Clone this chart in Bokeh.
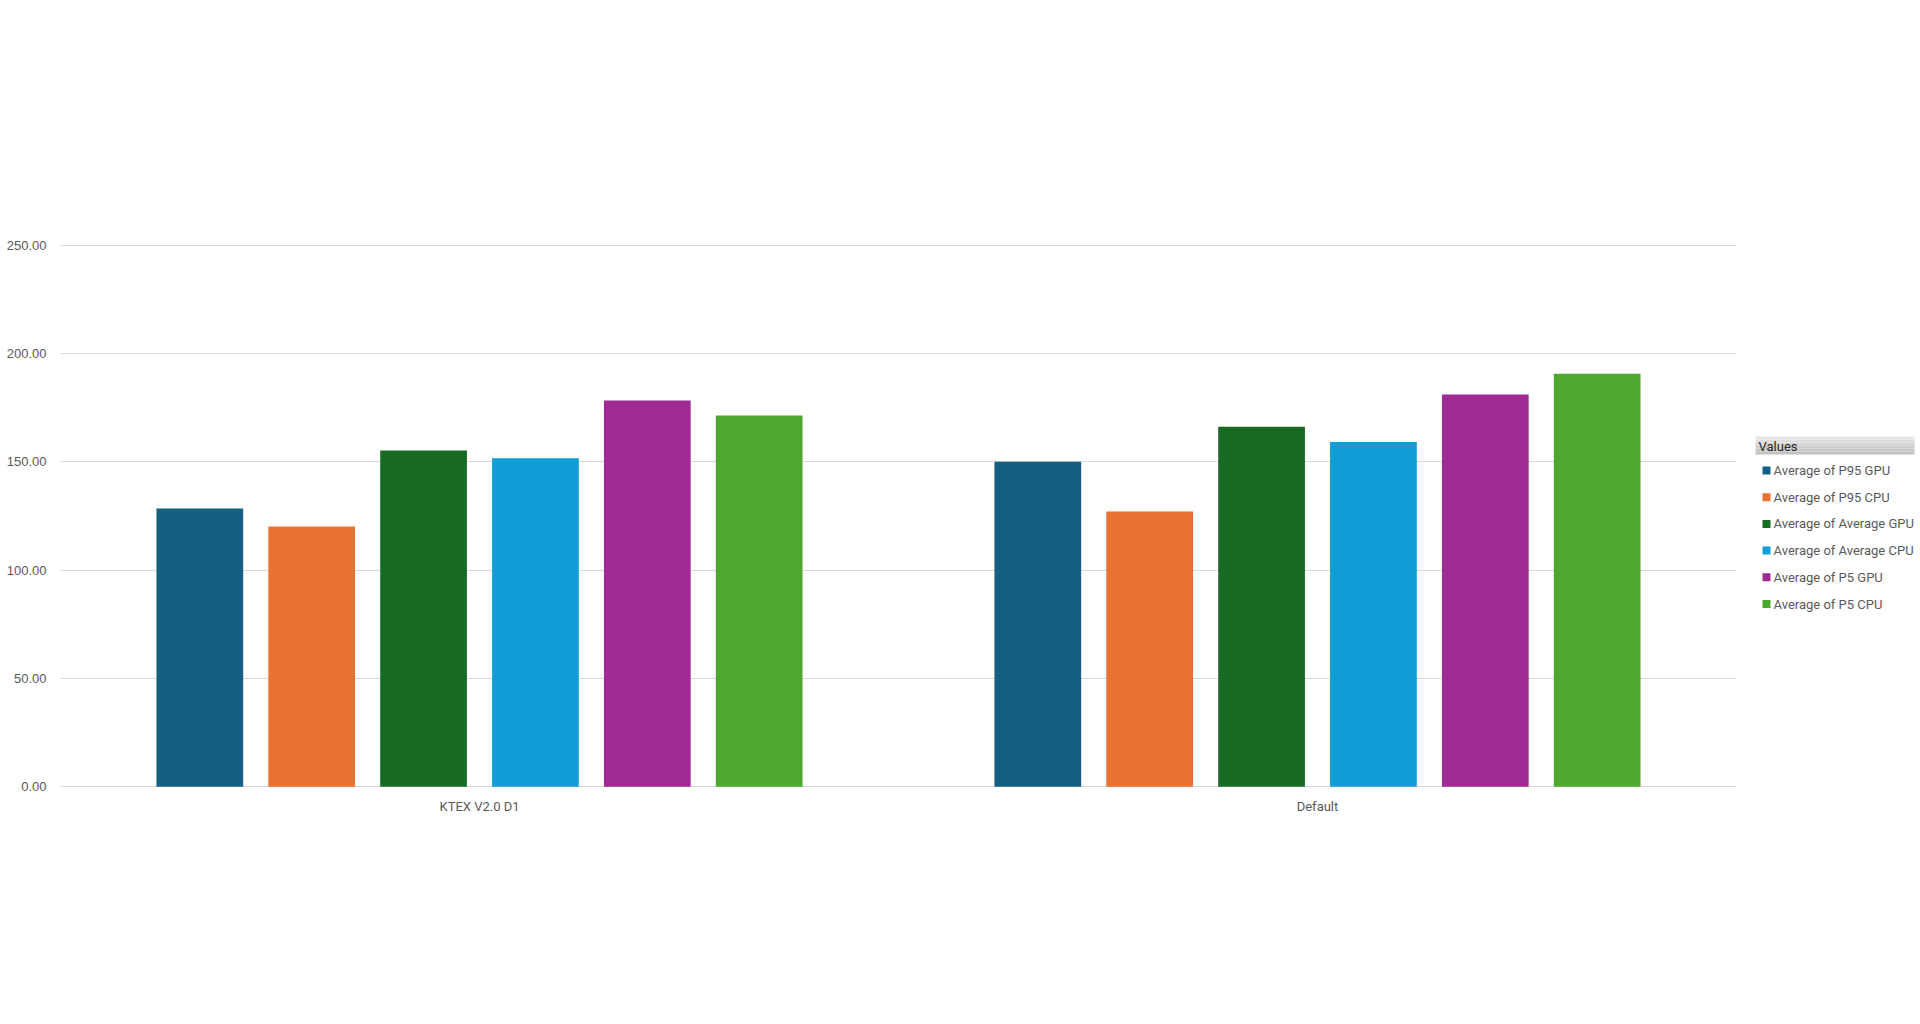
from bokeh.plotting import figure
from bokeh.models import FactorRange, Range1d, ColumnDataSource, FixedTicker, NumeralTickFormatter
from bokeh.transform import dodge
from bokeh.layouts import row
from bokeh.core.properties import value
from bokeh.embed import file_html
from bokeh.resources import INLINE

categories = ["KTEX V2.0 D1", "Default"]
series = ["Average of P95 GPU", "Average of P95 CPU", "Average of Average GPU",
          "Average of Average CPU", "Average of P5 GPU", "Average of P5 CPU"]
p95_gpu = [128.5, 150.0]
p95_cpu = [120.1, 127.1]
avg_gpu = [155.2, 166.2]
avg_cpu = [151.7, 159.1]
p5_gpu = [178.3, 181.1]
p5_cpu = [171.4, 190.7]
colors = ["#156082", "#E97132", "#196B24", "#0F9ED5", "#A02B93", "#4EA72E"]
y_ticks = [0, 50, 100, 150, 200, 250]
legend_title = "Values"

values = [p95_gpu, p95_cpu, avg_gpu, avg_cpu, p5_gpu, p5_cpu]
keys = ["s%d" % i for i in range(len(series))]
data = {"cat": categories}
for k, v in zip(keys, values):
    data[k] = v
src = ColumnDataSource(data)

BT, BB = 244, 213   # top / bottom borders (frame spans y 244..787)

p = figure(x_range=FactorRange(factors=categories, range_padding=0),
           y_range=Range1d(-0.3, 250.3), width=1740, height=1000,
           output_backend="svg", toolbar_location=None,
           min_border_left=60, min_border_right=4,
           min_border_top=BT, min_border_bottom=BB)
p.outline_line_color = None
p.background_fill_color = "white"

step = 0.1335
bw = 0.1035
for i, k in enumerate(keys):
    off = (i - 2.5) * step
    p.vbar(x=dodge("cat", off, range=p.x_range), top=k, width=bw, bottom=0,
           source=src, fill_color=colors[i], line_color=None)

p.yaxis.ticker = FixedTicker(ticks=y_ticks)
p.yaxis.formatter = NumeralTickFormatter(format="0.00")
p.yaxis.axis_line_color = None
p.yaxis.major_tick_line_color = None
p.yaxis.minor_tick_line_color = None
p.yaxis.major_tick_out = 0
p.yaxis.major_tick_in = 0
p.yaxis.minor_tick_out = 0
p.yaxis.major_label_text_font = "Liberation Sans"
p.yaxis.major_label_text_font_size = "13px"
p.yaxis.major_label_text_color = "#595959"
p.yaxis.major_label_standoff = 14
p.ygrid.grid_line_color = "#d9d9d9"
p.ygrid.grid_line_width = 1
p.ygrid.ticker = FixedTicker(ticks=y_ticks)

p.xaxis.axis_line_color = None
p.xaxis.major_tick_line_color = None
p.xaxis.minor_tick_line_color = None
p.xaxis.major_tick_out = 0
p.xaxis.major_tick_in = 0
p.xaxis.major_label_text_font = "Roboto"
p.xaxis.major_label_text_font_size = "13px"
p.xaxis.major_label_text_color = "#595959"
p.xaxis.major_label_standoff = 11
p.xgrid.grid_line_color = None

# legend panel: ranges expressed in page pixels (frame aligned with main frame)
LX0, LW = 1740, 176
lg = figure(width=LW, height=1000, x_range=Range1d(LX0, LX0 + LW),
            y_range=Range1d(1000 - BB, BT),
            output_backend="svg", toolbar_location=None,
            min_border_left=0, min_border_right=0, min_border_top=BT, min_border_bottom=BB)
lg.axis.visible = False
lg.grid.grid_line_color = None
lg.outline_line_color = None

bands = ["#e6e6e6", "#dedede", "#d6d6d6", "#cecece", "#c7c7c7", "#c2c2c2"]
top, bottom = 436, 454
h = (bottom - top) / len(bands)
lg.quad(left=[1755] * len(bands), right=[1914] * len(bands),
        top=[top + i * h for i in range(len(bands))],
        bottom=[top + (i + 1) * h for i in range(len(bands))],
        fill_color=bands, line_color=None)
lg.text(x=[1758], y=[445.5], text=[legend_title], text_font=value("Roboto"),
        text_font_size="13px", text_color="#262626", text_baseline="middle")

item_y = [470 + i * 26.7 for i in range(len(series))]
lg.scatter(x=[1766] * len(series), y=item_y, marker="square", size=8,
           fill_color=colors, line_color=None)
lg.text(x=[1773] * len(series), y=item_y, text=series, text_font=value("Roboto"),
        text_font_size="13px", text_color="#595959", text_baseline="middle")

layout = row(p, lg, spacing=0)
open("out.html", "w").write(file_html(layout, INLINE))
